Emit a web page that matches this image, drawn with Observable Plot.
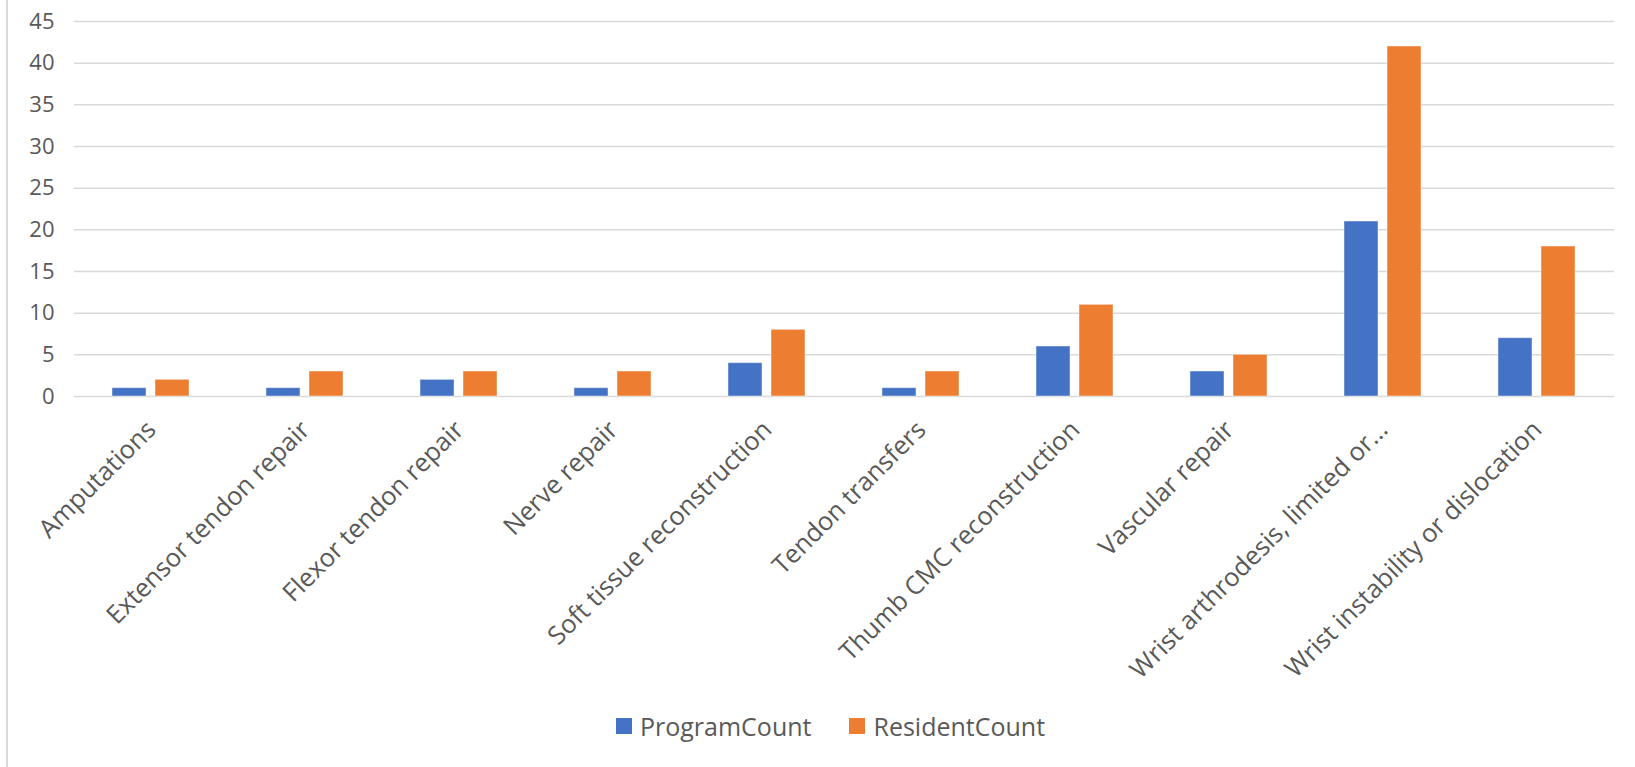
<!DOCTYPE html>
<html>
<head>
<meta charset="utf-8">
<script src="https://cdn.jsdelivr.net/npm/d3@7"></script>
<script src="https://cdn.jsdelivr.net/npm/@observablehq/plot@0.6"></script>
<style>
  html, body { margin: 0; padding: 0; background: #fff; }
  body { font-family: "Open Sans", sans-serif; }
  #wrap { position: relative; width: 1635px; height: 767px; overflow: hidden; }
  #border { position: absolute; left: 6px; top: 0; width: 2px; height: 767px; background: #d9d9d9; }
  #chart { position: absolute; left: 0; top: 0; }
  #legend { position: absolute; left: 616px; top: 709px; display: flex; align-items: center; font-size: 25px; color: #595959; white-space: nowrap; }
  #legend .sw { width: 16px; height: 16px; display: inline-block; margin-right: 8px; }
  #legend .item { display: flex; align-items: center; margin-right: 38px; }
</style>
</head>
<body>
<div id="wrap">
  <div id="border"></div>
  <div id="chart"></div>
  <div id="legend"></div>
</div>
<script>
const categories = [
  "Amputations",
  "Extensor tendon repair",
  "Flexor tendon repair",
  "Nerve repair",
  "Soft tissue reconstruction",
  "Tendon transfers",
  "Thumb CMC reconstruction",
  "Vascular repair",
  "Wrist arthrodesis, limited or...",
  "Wrist instability or dislocation"
];
const programCount = [1, 1, 2, 1, 4, 1, 6, 3, 21, 7];
const residentCount = [2, 3, 3, 3, 8, 3, 11, 5, 42, 18];
const series = ["ProgramCount", "ResidentCount"];
const seriesColors = ["#4472C4", "#ED7D31"];
const yTicks = [0, 5, 10, 15, 20, 25, 30, 35, 40, 45];

const rows = [];
categories.forEach((c, i) => {
  rows.push({category: c, series: series[0], value: programCount[i]});
  rows.push({category: c, series: series[1], value: residentCount[i]});
});

const chart = Plot.plot({
  width: 1635,
  height: 690,
  marginLeft: 71,
  marginRight: 18,
  marginTop: 21,
  marginBottom: 294,
  style: {fontFamily: "'Open Sans', sans-serif", background: "transparent"},
  fx: {domain: categories, padding: 0, label: null},
  x: {domain: series, paddingInner: 0.2, paddingOuter: 0.88, axis: null},
  y: {domain: [0, 45], label: null},
  color: {domain: series, range: seriesColors},
  marks: [
    Plot.gridY({ticks: yTicks, stroke: "#d9d9d9", strokeOpacity: 1, strokeWidth: 1.5}),
    Plot.barY(rows, {fx: "category", x: "series", y: "value", fill: "series", stroke: "#ffffff", strokeOpacity: 0.45, strokeWidth: 1}),
    Plot.axisY({ticks: yTicks, tickSize: 0, tickPadding: 20, fontSize: 22, color: "#595959", label: null}),
    Plot.axisFx({anchor: "bottom", tickRotate: -45, tickSize: 0, tickPadding: 29, fontSize: 25.5, color: "#595959", label: null})
  ]
});
document.getElementById("chart").appendChild(chart);

const legend = document.getElementById("legend");
series.forEach((s, i) => {
  const item = document.createElement("div");
  item.className = "item";
  const sw = document.createElement("span");
  sw.className = "sw";
  sw.style.background = seriesColors[i];
  const t = document.createElement("span");
  t.textContent = s;
  item.appendChild(sw);
  item.appendChild(t);
  legend.appendChild(item);
});
</script>
</body>
</html>
